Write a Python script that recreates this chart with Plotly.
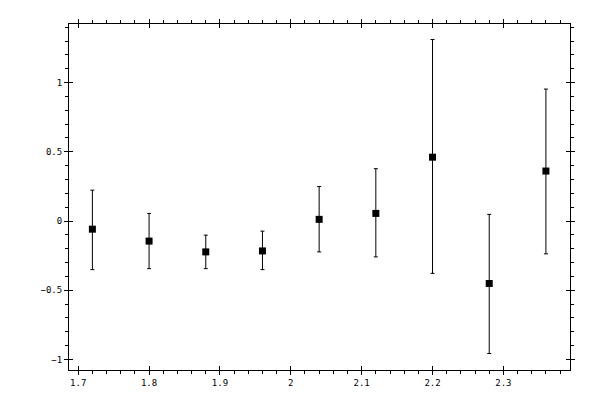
import plotly.graph_objects as go

x_vals = [1.72, 1.80, 1.88, 1.96, 2.04, 2.12, 2.20, 2.28, 2.36]
y_vals = [-0.059, -0.145, -0.223, -0.216, 0.012, 0.055, 0.461, -0.451, 0.361]
y_upper = [0.223, 0.055, -0.102, -0.073, 0.249, 0.378, 1.311, 0.048, 0.953]
y_lower = [-0.351, -0.344, -0.344, -0.351, -0.223, -0.259, -0.378, -0.957, -0.237]

err_plus = [u - y for u, y in zip(y_upper, y_vals)]
err_minus = [y - l for l, y in zip(y_lower, y_vals)]

x_range = [1.687, 2.394]
y_range = [-1.076, 1.423]

fig = go.Figure()
fig.add_trace(go.Scatter(
    x=x_vals, y=y_vals, mode="markers",
    marker=dict(symbol="square", size=7, color="black"),
    error_y=dict(type="data", symmetric=False, array=err_plus, arrayminus=err_minus,
                 color="black", thickness=1, width=2),
    showlegend=False,
))
# invisible trace to anchor the overlay axes
fig.add_trace(go.Scatter(x=[x_vals[0]], y=[y_vals[0]], xaxis="x2", yaxis="y2",
                         mode="markers", marker=dict(opacity=0), showlegend=False,
                         hoverinfo="skip"))

font = dict(family="DejaVu Sans Mono", size=9, color="black")
common = dict(showgrid=False, zeroline=False, linecolor="black", linewidth=1,
              tickcolor="black", tickwidth=1, mirror="allticks", showline=True)

fig.update_layout(
    width=600, height=400,
    margin=dict(l=61, r=38, t=11, b=38),
    paper_bgcolor="white", plot_bgcolor="white",
    xaxis=dict(range=x_range, tickmode="linear", tick0=1.7, dtick=0.1,
               ticks="outside", ticklen=4, tickfont=font,
               minor=dict(tickmode="linear", tick0=1.7, dtick=0.02, ticks="outside",
                          ticklen=3, tickcolor="black", tickwidth=1),
               **common),
    yaxis=dict(range=y_range, tickmode="linear", tick0=0, dtick=0.5,
               ticks="outside", ticklen=4, tickfont=font,
               minor=dict(tickmode="linear", tick0=0, dtick=0.1, ticks="outside",
                          ticklen=3, tickcolor="black", tickwidth=1),
               **common),
    xaxis2=dict(range=x_range, overlaying="x", anchor="y2", tickmode="linear",
                tick0=1.7, dtick=0.1, ticks="inside", ticklen=4,
                showticklabels=False, **common),
    yaxis2=dict(range=y_range, overlaying="y", anchor="x2", tickmode="linear",
                tick0=0, dtick=0.5, ticks="inside", ticklen=4,
                showticklabels=False, **common),
)

fig.write_html("out.html")
